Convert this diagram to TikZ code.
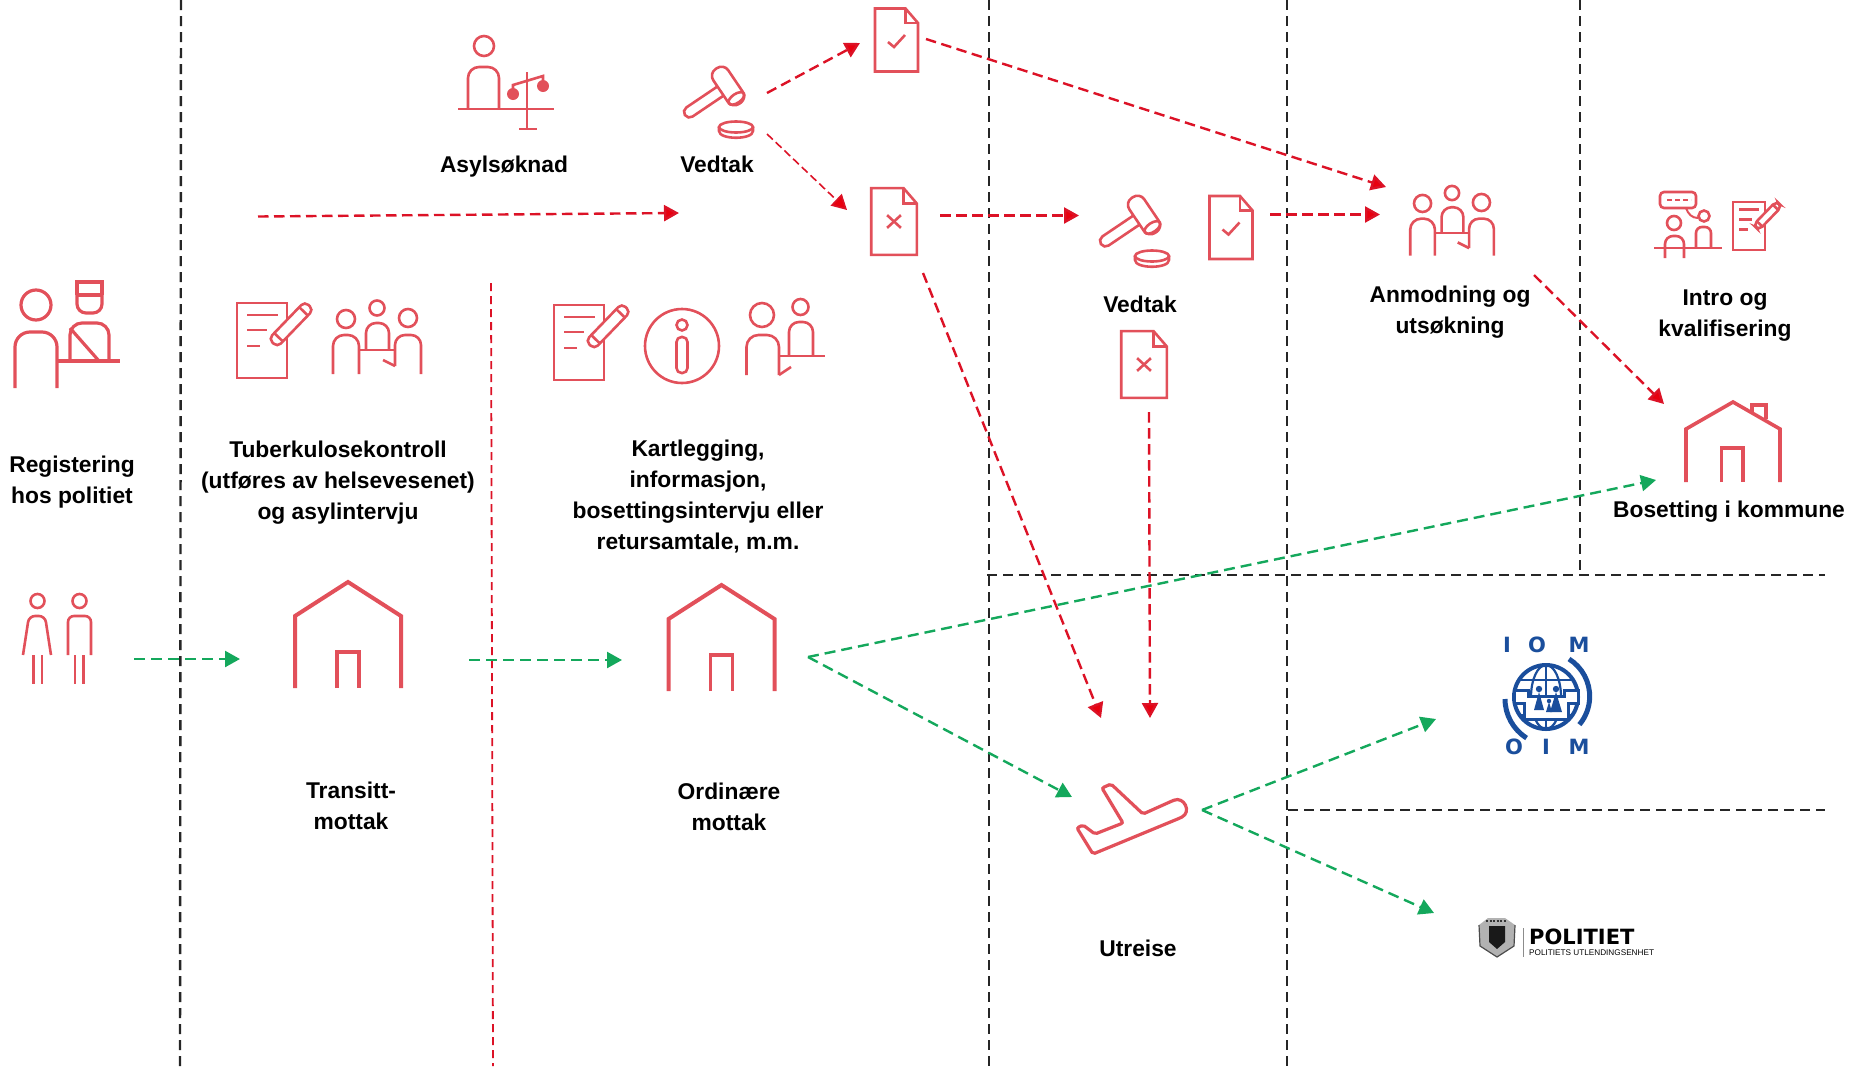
\documentclass[tikz,border=0pt]{standalone}
\usepackage{fontspec}
\setmainfont{Liberation Sans}
\newfontfamily\logofont{DejaVu Sans}
\usetikzlibrary{arrows.meta}

\definecolor{iconred}{HTML}{E2505A}
\definecolor{arrowred}{HTML}{DC1226}
\definecolor{tipred}{HTML}{E8000F}
\definecolor{arrowgreen}{HTML}{14A85C}
\definecolor{iomblue}{HTML}{1A4E9C}

\tikzset{
icon/.style={draw=iconred, line width=3.2pt, fill=none},
thinicon/.style={draw=iconred, line width=2.6pt, fill=none},
sep/.style={draw=black!85, line width=2.4pt, dash pattern=on 10pt off 6pt},
redsep/.style={draw=arrowred, line width=1.8pt, dash pattern=on 8pt off 5pt},
redarrow/.style={draw=arrowred, line width=2.4pt, dash pattern=on 10.5pt off 5.5pt, -{Triangle[length=15pt,width=16pt,fill=tipred]}},
thinarrow/.style={redarrow, line width=1.6pt, dash pattern=on 8pt off 4pt},
greenarrow/.style={draw=arrowgreen, line width=2.4pt, dash pattern=on 11pt off 6pt, -{Triangle[length=15pt,width=16pt,fill=arrowgreen]}},
lbl/.style={font=\fontsize{22.8}{31}\selectfont\bfseries, align=center, inner sep=0pt},
% document with check mark, origin in the middle
pics/doccheck/.style={code={
\draw[thinicon] (-21.5,-31.5) -- (9,-31.5) -- (21.5,-17) -- (21.5,31.5) -- (-21.5,31.5) -- cycle;
\draw[thinicon] (9,-31.5) -- (9,-17) -- (21.5,-17);
\draw[thinicon] (-8.5,2) -- (-2.5,7) -- (8.5,-5);
}},
pics/docx/.style={code={
\draw[thinicon] (-21.5,-31.5) -- (9,-31.5) -- (21.5,-17) -- (21.5,31.5) -- (-21.5,31.5) -- cycle;
\draw[thinicon] (9,-31.5) -- (9,-17) -- (21.5,-17);
\draw[thinicon] (-6.5,-6) -- (6.5,6) (-6.5,6) -- (6.5,-6);
}},
% gavel, origin in the middle of the head
pics/gavel/.style={code={
\begin{scope}[rotate=34]
\draw[thinicon, rounded corners=5.5pt] (-9,-5.5) -- (-52,-5.5) -- (-52,5.5) -- (-9,5.5);
\draw[thinicon, rounded corners=8pt] (-9,-21) rectangle (9,21);
\draw[thinicon] (0,15) ellipse [x radius=9, y radius=4.5];
\end{scope}
\draw[thinicon] (8,41) ellipse [x radius=17, y radius=5.5];
\draw[thinicon] (-9,41) -- (-9,45) .. controls (-9,54) and (25,54) .. (25,45) -- (25,41);
}},
% origin at the top of the roof
pics/house/.style={code={
\draw[icon, line width=4pt] (-53,106) -- (-53,34) -- (0,0) -- (53,34) -- (53,106);
\draw[icon, line width=3.6pt] (-11,106) -- (-11,70) -- (11,70) -- (11,106);
}},
% origin at the top left corner of the sheet
pics/notepad/.style={code={
\draw[thinicon] (0,0) rectangle (50,75);
\draw[thinicon] (10,12) -- (41,12) (10,27) -- (30,27) (10,43) -- (23,43);
\begin{scope}[shift={(36,40)}, rotate=46]
\draw[thinicon, fill=white, rounded corners=5pt] (0,-6) -- (52,-6) -- (52,6) -- (0,6) -- cycle;
\draw[thinicon] (44,-6) -- (44,6);
\draw[thinicon] (8,-6) -- (8,6);
\end{scope}
}},
% origin at the head of the person in the middle
pics/group/.style={code={
\draw[thinicon] (-31,11) circle [radius=9];
\draw[thinicon] (0,0) circle [radius=7.5];
\draw[thinicon] (31,10) circle [radius=9];
\draw[thinicon, rounded corners=11pt] (-44,66) -- (-44,27) -- (-18,27) -- (-18,66);
\draw[thinicon, rounded corners=10pt] (-11,42) -- (-11,15) -- (12,15) -- (12,42);
\draw[thinicon] (-18,42) -- (17,42);
\draw[thinicon] (6,52) -- (18,58);
\draw[thinicon, rounded corners=10pt] (18,58) -- (18,27) -- (44,27) -- (44,66);
}}
}

\begin{document}
\begin{tikzpicture}
[x=1pt, y=-1pt]

\useasboundingbox (0,0) rectangle (1855,1066);

\path
coordinate (top1) at (181,0)
coordinate (bot1) at (180,1066)
coordinate (top2) at (989,0)
coordinate (bot2) at (989,1066)
coordinate (top3) at (1287,0)
coordinate (bot3) at (1287,1066)
coordinate (top4) at (1580,0)
coordinate (bot4) at (1580,574)
coordinate (topred) at (491,283)
coordinate (botred) at (493,1066)
coordinate (hl1) at (987,575)
coordinate (hr1) at (1825,575)
coordinate (hl2) at (1288,810)
coordinate (hr2) at (1825,810)
;

% borders between the phases
\foreach \x in {1,...,4}
{\draw[sep] (top\x) -- (bot\x);}
\draw[sep] (hl1) -- (hr1);
\draw[sep] (hl2) -- (hr2);
\draw[redsep] (topred) -- (botred);

% ends of the arrows
\path
coordinate (asylstart) at (258,216.5)
coordinate (asylend) at (679,213)
coordinate (ved1a) at (767,93)
coordinate (okend) at (860,43)
coordinate (ved1b) at (767,134)
coordinate (noend) at (847,210)
coordinate (okout) at (926,39)
coordinate (anmod1) at (1386,187)
coordinate (noout) at (940,215.5)
coordinate (ved2) at (1079,215.5)
coordinate (ok2out) at (1270,214.5)
coordinate (anmod2) at (1380,214.5)
coordinate (nodown) at (923,273)
coordinate (utr1) at (1101,718)
coordinate (no2down) at (1149,412)
coordinate (utr2) at (1150,718)
coordinate (anmodout) at (1534,275)
coordinate (bos1) at (1664,404)
coordinate (regout) at (134,659)
coordinate (transin) at (240,659)
coordinate (transout) at (469,660)
coordinate (ordin) at (622,660)
coordinate (ordout) at (808,657)
coordinate (bos2) at (1656,480)
coordinate (utr3) at (1072,797)
coordinate (utrout) at (1202,810)
coordinate (iomin) at (1436,719)
coordinate (polin) at (1434,913)
;

% red routes
\begin{scope}[redarrow]
\draw (asylstart) -- (asylend);
\draw (ved1a) -- (okend);
\draw (okout) -- (anmod1);
\draw (noout) -- (ved2);
\draw (ok2out) -- (anmod2);
\draw (nodown) -- (utr1);
\draw (no2down) -- (utr2);
\draw (anmodout) -- (bos1);
\end{scope}
\draw[thinarrow] (ved1b) -- (noend);

% green routes
\begin{scope}[greenarrow]
\draw (regout) -- (transin);
\draw (transout) -- (ordin);
\draw (ordout) -- (bos2);
\draw (ordout) -- (utr3);
\draw (utrout) -- (iomin);
\draw (utrout) -- (polin);
\end{scope}

% person and officer
\draw[icon] (36,305) circle [radius=15];
\draw[icon, rounded corners=15pt] (15,388) -- (15,332) -- (57,332) -- (57,388);
\draw[icon] (57,361) -- (120,361);
\draw[icon] (77,295) -- (77,282) -- (102,282) -- (102,295) (77,295) -- (102,295);
\draw[icon, rounded corners=9pt] (77,295) -- (77,313) -- (102,313) -- (102,295);
\draw[icon, rounded corners=12pt] (70,361) -- (70,323) -- (109,323) -- (109,361);
\draw[icon] (70,328) -- (99,361);

% person at the scales
\draw[thinicon] (484,46) circle [radius=10];
\draw[thinicon, rounded corners=11pt] (468,109) -- (468,67) -- (499,67) -- (499,109);
\draw[thinicon] (458,109) -- (554,109);
\draw[thinicon] (527,72) -- (527,129) (519,129) -- (537,129);
\draw[thinicon] (513,95) -- (513,85) -- (543,76) -- (543,87);
\fill[iconred] (513,94) circle [radius=6] (543,86) circle [radius=6];

\pic at (728,86) {gavel};
\pic at (1144,215) {gavel};

\pic at (896.5,40) {doccheck};
\pic[scale=1.06] at (894,221.5) {docx};
\pic at (1231,227.5) {doccheck};
\pic[scale=1.06] at (1144,364.5) {docx};

\pic at (237,303) {notepad};
\pic at (554,305) {notepad};
\pic[scale=.64] at (1733,202) {notepad};

\pic at (377,308) {group};
\pic[scale=.95] at (1452,193) {group};

% info sign
\draw[thinicon] (682,346) circle [radius=37];
\draw[thinicon] (682,325) circle [radius=5.5];
\draw[thinicon, rounded corners=5pt] (676.5,337) rectangle (687.5,373);

% interview
\draw[thinicon] (762,315) circle [radius=12];
\draw[thinicon, rounded corners=12pt] (746.5,375) -- (746.5,335) -- (779,335) -- (779,375);
\draw[thinicon] (800.5,307) circle [radius=8];
\draw[thinicon, rounded corners=10pt] (789,356) -- (789,322) -- (813,322) -- (813,356);
\draw[thinicon] (779,356) -- (825,356);
\draw[thinicon] (779,375) -- (791,367);

% intro icon
\draw[thinicon, rounded corners=4pt] (1660,192) rectangle (1696,208);
\draw[thinicon, dash pattern=on 5pt off 3pt] (1667,200) -- (1691,200);
\draw[thinicon, line width=2pt] (1686,208) .. controls (1688,214) and (1692,218) .. (1698,218);
\draw[thinicon] (1704,216) circle [radius=5.5];
\draw[thinicon, rounded corners=6pt] (1696,248) -- (1696,227) -- (1711,227) -- (1711,248);
\draw[thinicon] (1674,223) circle [radius=7];
\draw[thinicon, rounded corners=8pt] (1665,258) -- (1665,236) -- (1684,236) -- (1684,258);
\draw[thinicon] (1654,248) -- (1722,248);

% asylum seekers
\draw[thinicon] (37.5,601) circle [radius=7];
\draw[thinicon, rounded corners=6pt] (23,655) -- (29,616) -- (45,616) -- (51,655);
\draw[thinicon] (33.5,655) -- (33.5,684) (42,655) -- (42,684);
\draw[thinicon] (79.5,601) circle [radius=7];
\draw[thinicon, rounded corners=6pt] (68,655) -- (68,616) -- (91,616) -- (91,655);
\draw[thinicon] (75,655) -- (75,684) (83.5,655) -- (83.5,684);

\pic at (348,582) {house};
\pic at (721.5,585) {house};

% house in the municipality
\draw[icon, line width=3.6pt] (1686,482) -- (1686,429) -- (1733,402) -- (1780,429) -- (1780,482);
\draw[icon] (1721.5,482) -- (1721.5,448) -- (1743,448) -- (1743,482);
\draw[icon] (1752,413) -- (1752,405) -- (1766,405) -- (1766,419);

% plane
\draw[icon, rounded corners=2pt] (1077,828) -- (1083,825) -- (1095,834) -- (1123,823) -- (1102,788) -- (1111,784) -- (1143,814) -- (1172,801)
.. controls (1184,796) and (1192,812) .. (1180,818) -- (1093,854) -- cycle;

% IOM sign
\begin{scope}[shift={(1546,697)}]
\draw[iomblue, line width=4pt] (0,0) circle [radius=32];
\draw[iomblue, line width=2.2pt] (0,0) ellipse [x radius=15, y radius=32];
\draw[iomblue, line width=2.2pt] (0,-32) -- (0,32) (-27,-17) -- (27,-17) (-27,18) -- (27,18);
\draw[iomblue, line width=3pt, fill=white] (-32,-7) -- (-18,-7) -- (-18,-1) -- (18,-1) -- (18,-7) -- (32,-7) -- (32,6) -- (22,6) -- (22,22) -- (-22,22) -- (-22,6) -- (-32,6) -- cycle;
\fill[iomblue] (-7,-8) circle [radius=3.2] (-12,13) -- (-7,-5) -- (-2,13) -- cycle;
\fill[iomblue] (3,4) circle [radius=2.2] (0,15) -- (3,5) -- (6,15) -- cycle;
\fill[iomblue] (10,-8) circle [radius=3.2] (4,15) -- (10,-5) -- (16,15) -- cycle;
\draw[iomblue, line width=5pt] (23,-38) arc [start angle=-58, end angle=40, radius=44];
\draw[iomblue, line width=5pt] (-41,2) arc [start angle=180, end angle=122, radius=46];
\end{scope}
\path[font=\logofont\fontsize{21}{24}\selectfont\bfseries, text=iomblue, inner sep=0pt]
node (iomi) at (1507,645) {I}
node (iomo) at (1537,645) {O}
node (iomm) at (1579,645) {M}
node (oimo) at (1514,747) {O}
node (oimi) at (1546,747) {I}
node (oimm) at (1579,747) {M}
;

% police sign
\fill[black!30] (1479,925) -- (1488,918) -- (1505,918) -- (1515,925) -- (1514,946) -- (1497,957) -- (1480,946) -- cycle;
\draw[black!70, line width=1.2pt] (1479,925) -- (1480,946) -- (1497,957) -- (1514,946) -- (1515,925);
\draw[black!80, line width=2pt, dash pattern=on 2pt off 1.5pt] (1486,921) -- (1507,921);
\fill[black!90] (1489,926) -- (1505,926) -- (1505,942) -- (1497,949) -- (1489,942) -- cycle;
\draw[black!45, line width=1pt] (1523,928) -- (1523,957);
\node[font=\logofont\fontsize{21}{24}\selectfont\bfseries, inner sep=0pt, anchor=west] (politi) at (1529,937) {POLITIET};
\node[font=\fontsize{8.2}{10}\selectfont, inner sep=0pt, anchor=west] (politi2) at (1529,953) {POLITIETS UTLENDINGSENHET};

% labels
\node[lbl] (reg) at (72,482) {Registering\\hos politiet};
\node[lbl] (asyl) at (504,166.5) {Asylsøknad};
\node[lbl] (ved) at (717,164) {Vedtak};
\node[lbl] (vedto) at (1140,304) {Vedtak};
\node[lbl] (tub) at (338,483) {Tuberkulosekontroll\\(utføres av helsevesenet)\\og asylintervju};
\node[lbl] (kart) at (698,496) {Kartlegging,\\informasjon,\\bosettingsintervju eller\\retursamtale, m.m.};
\node[lbl] (anm) at (1450,312) {Anmodning og\\utsøkning};
\node[lbl] (intro) at (1725,316) {Intro og\\kvalifisering};
\node[lbl] (bos) at (1729,511.5) {Bosetting i kommune};
\node[lbl] (trans) at (351,805.5) {Transitt-\\mottak};
\node[lbl] (ord) at (729,806.5) {Ordinære\\mottak};
\node[lbl] (utr) at (1138,948) {Utreise};

\end{tikzpicture}
\end{document}
